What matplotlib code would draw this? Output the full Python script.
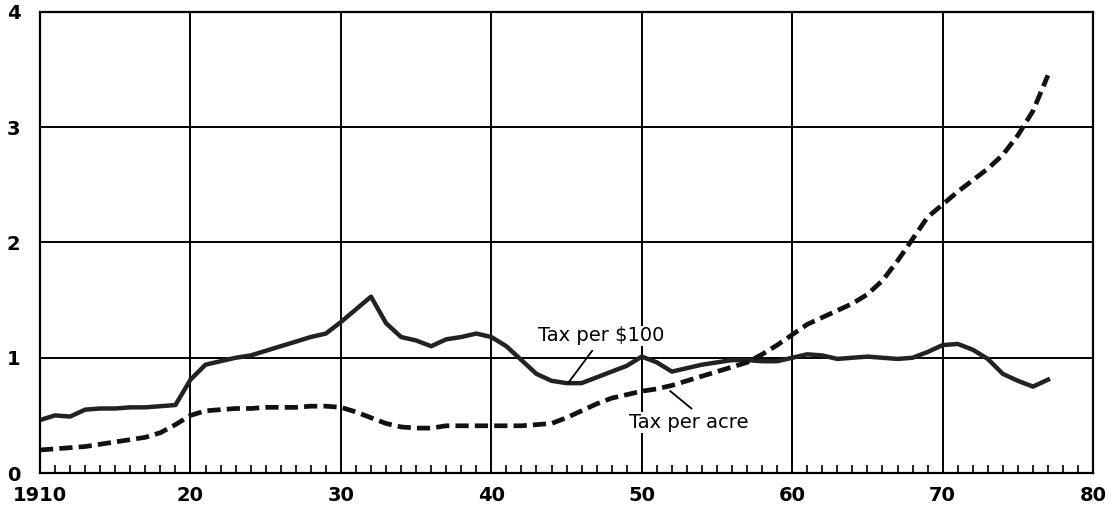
import numpy as np
import matplotlib
matplotlib.use("Agg")
import matplotlib.pyplot as plt
from matplotlib.ticker import MultipleLocator

# years 1910..1977
years = list(range(1910, 1978))

# Tax per $100 of value (solid)
tax_per_100 = [
  0.46, 0.50, 0.49, 0.55, 0.56, 0.56, 0.57, 0.57, 0.58, 0.59,
  0.81, 0.94, 0.97, 1.00, 1.02, 1.06, 1.10, 1.14, 1.18, 1.21,
  1.31, 1.42, 1.53, 1.30, 1.18, 1.15, 1.10, 1.16, 1.18, 1.21,
  1.18, 1.10, 0.98, 0.86, 0.80, 0.78, 0.78, 0.83, 0.88, 0.93,
  1.01, 0.96, 0.88, 0.91, 0.94, 0.96, 0.98, 0.98, 0.97, 0.97,
  1.00, 1.03, 1.02, 0.99, 1.00, 1.01, 1.00, 0.99, 1.00, 1.05,
  1.11, 1.12, 1.07, 0.99, 0.86, 0.80, 0.75, 0.81,
]

# Tax per acre (dashed)
tax_per_acre = [
  0.20, 0.21, 0.22, 0.23, 0.25, 0.27, 0.29, 0.31, 0.35, 0.42,
  0.50, 0.54, 0.55, 0.56, 0.56, 0.57, 0.57, 0.57, 0.58, 0.58,
  0.57, 0.53, 0.48, 0.43, 0.40, 0.39, 0.39, 0.41, 0.41, 0.41,
  0.41, 0.41, 0.41, 0.42, 0.43, 0.48, 0.54, 0.60, 0.65, 0.68,
  0.71, 0.73, 0.76, 0.80, 0.84, 0.88, 0.92, 0.96, 1.03, 1.11,
  1.20, 1.29, 1.35, 1.41, 1.47, 1.55, 1.67, 1.84, 2.03, 2.22,
  2.33, 2.44, 2.54, 2.64, 2.76, 2.93, 3.14, 3.45,
]

x_ticks = [1910, 1920, 1930, 1940, 1950, 1960, 1970, 1980]
x_labels = ["1910", "20", "30", "40", "50", "60", "70", "80"]
y_ticks = [0, 1, 2, 3, 4]

fig = plt.figure(figsize=(11.12, 5.17), dpi=100)
ax = fig.add_axes([0.036, 0.085, 0.947, 0.892])

ax.plot(years, tax_per_100, color="#222222", lw=3.2, solid_joinstyle="round")
ax.plot(years, tax_per_acre, color="#111111", lw=3.4, dashes=(2.8, 1.3), dash_capstyle="butt")

ax.set_xlim(1910, 1980)
ax.set_ylim(0, 4)
ax.set_xticks(x_ticks)
ax.set_xticklabels(x_labels)
ax.set_yticks(y_ticks)
ax.xaxis.set_minor_locator(MultipleLocator(1))
ax.grid(True, which="major", color="black", lw=1.4)
ax.tick_params(which="major", length=0, labelsize=14, pad=9)
ax.tick_params(axis="y", pad=14)
ax.tick_params(axis="x", which="minor", direction="in", length=6, width=1.2, color="black")
ax.tick_params(axis="y", which="minor", length=0)
for lab in ax.get_xticklabels() + ax.get_yticklabels():
  lab.set_fontweight("bold")
for sp in ax.spines.values():
  sp.set_linewidth(1.6)

# labels with leader lines
ax.text(1947.3, 1.19, "Tax per $100", fontsize=14, ha="center", va="center",
        bbox=dict(facecolor="white", edgecolor="none", pad=0.5))
ax.plot([1946.7, 1945.1], [1.06, 0.78], color="black", lw=1.3)
ax.text(1953.1, 0.44, "Tax per acre", fontsize=14, ha="center", va="center",
        bbox=dict(facecolor="white", edgecolor="none", pad=0.5))
ax.plot([1953.3, 1951.9], [0.56, 0.71], color="black", lw=1.3)

fig.savefig("out.png", dpi=100)
